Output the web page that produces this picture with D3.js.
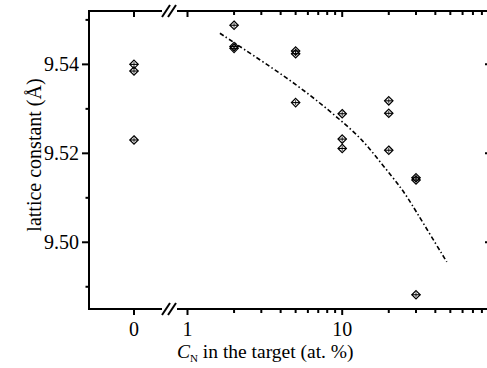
<!DOCTYPE html>
<html>
<head>
<meta charset="utf-8">
<script src="https://cdn.jsdelivr.net/npm/d3@7"></script>
<style>
  html, body { margin: 0; padding: 0; background: #fff; }
  svg { display: block; }
</style>
</head>
<body>
<svg id="chart" width="487" height="368"></svg>
<script>
// ---------- data ----------
const zeroCategory = [0, 0, 0];
const zeroValues = [9.5400, 9.5385, 9.5230];
const logX = [2, 2, 2, 5, 5, 5, 10, 10, 10, 20, 20, 20, 30, 30, 30];
const logY = [9.5488, 9.5440, 9.5436, 9.5430, 9.5424, 9.5314, 9.5289, 9.5232, 9.5211, 9.5318, 9.5290, 9.5207, 9.5145, 9.5140, 9.4882];
const fitX = [1.62, 2.54, 5.34, 9.68, 13.7, 18.0, 24.3, 28.8, 47.4];
const fitY = [9.5470, 9.5425, 9.5350, 9.5276, 9.5229, 9.5176, 9.5121, 9.5080, 9.4956];
const yMajorTicks = [9.50, 9.52, 9.54];
const yMinorTicks = [9.49, 9.51, 9.53, 9.55];
const xLogMajorTicks = [1, 10];
const xLogMinorTicks = [2, 3, 4, 5, 6, 7, 8, 9, 20, 30, 40, 50, 60, 70, 80, 90];
const xLeftTicks = [0];
const yTitle = "lattice constant (Å)";

(function () {
const FONT = '"Liberation Serif"';
const svg = d3.select("#chart");
const pL = 89, pR = 490, pT = 11, pB = 309;
const breakL = 162, breakR = 177;

const y = d3.scaleLinear().domain([9.485, 9.552]).range([pB, pT]);
const xL = d3.scaleLinear().domain([-1, 0]).range([pL, 134]);
const xR = d3.scaleLog().domain([1, 10]).range([187.5, 342.2]);

const fmtY = d3.format(".2f");
const AX = 2;

function txt(sel) { return sel.style("font-family", FONT).attr("fill", "#000"); }

function hline(yy) {
  svg.append("line").attr("x1", pL - 1).attr("x2", breakL).attr("y1", yy).attr("y2", yy)
    .attr("stroke", "#000").attr("stroke-width", AX);
  svg.append("line").attr("x1", breakR).attr("x2", pR + 2).attr("y1", yy).attr("y2", yy)
    .attr("stroke", "#000").attr("stroke-width", AX);
  [0, 6].forEach(o => {
    svg.append("line").attr("x1", breakL + o).attr("y1", yy + 6)
      .attr("x2", breakL + o + 8).attr("y2", yy - 6)
      .attr("stroke", "#000").attr("stroke-width", 2);
  });
}
hline(pT);
hline(pB);
svg.append("line").attr("x1", pL).attr("x2", pL).attr("y1", pT).attr("y2", pB)
  .attr("stroke", "#000").attr("stroke-width", AX);
svg.append("line").attr("x1", pR).attr("x2", pR).attr("y1", pT).attr("y2", pB)
  .attr("stroke", "#000").attr("stroke-width", AX);

yMajorTicks.forEach(v => {
  svg.append("line").attr("x1", pL - 7).attr("x2", pL).attr("y1", y(v)).attr("y2", y(v))
    .attr("stroke", "#000").attr("stroke-width", 2);
  svg.append("line").attr("x1", pR - 5).attr("x2", pR).attr("y1", y(v)).attr("y2", y(v))
    .attr("stroke", "#000").attr("stroke-width", 2);
  txt(svg.append("text")).attr("x", pL - 10).attr("y", y(v)).attr("dy", "0.35em")
    .attr("text-anchor", "end").attr("font-size", 20).text(fmtY(v));
});
yMinorTicks.forEach(v => {
  svg.append("line").attr("x1", pL - 3.5).attr("x2", pL).attr("y1", y(v)).attr("y2", y(v))
    .attr("stroke", "#000").attr("stroke-width", 2);
  svg.append("line").attr("x1", pR - 3).attr("x2", pR).attr("y1", y(v)).attr("y2", y(v))
    .attr("stroke", "#000").attr("stroke-width", 2);
});

function xtick(px, major) {
  const len = major ? 6 : 4;
  svg.append("line").attr("x1", px).attr("x2", px).attr("y1", pB).attr("y2", pB + len)
    .attr("stroke", "#000").attr("stroke-width", 2);
  svg.append("line").attr("x1", px).attr("x2", px).attr("y1", pT).attr("y2", pT + len)
    .attr("stroke", "#000").attr("stroke-width", 2);
}
const tickBase = 335.5;
xLeftTicks.forEach(v => {
  xtick(xL(v), true);
  txt(svg.append("text")).attr("x", xL(v)).attr("y", tickBase).attr("text-anchor", "middle")
    .attr("font-size", 20).text(String(v));
});
xLogMajorTicks.forEach(v => {
  xtick(xR(v), true);
  txt(svg.append("text")).attr("x", xR(v)).attr("y", tickBase).attr("text-anchor", "middle")
    .attr("font-size", 20).text(String(v));
});
xLogMinorTicks.forEach(v => { if (xR(v) < pR - 1) xtick(xR(v), false); });

const fitPts = fitX.map((d, i) => [xR(d), y(fitY[i])]);
svg.append("path").datum(fitPts)
  .attr("d", d3.line().curve(d3.curveBasis))
  .attr("fill", "none").attr("stroke", "#000").attr("stroke-width", 1.6)
  .attr("stroke-dasharray", "4.5,2.5,1.5,2.5");

function marker(px, py) {
  const g = svg.append("g").attr("transform", `translate(${px},${py})`);
  g.append("path").attr("d", "M0,-4.2L4.2,0L0,4.2L-4.2,0Z")
    .attr("fill", "none").attr("stroke", "#000").attr("stroke-width", 1.2);
  g.append("line").attr("x1", -4.2).attr("x2", 4.2).attr("y1", 0).attr("y2", 0)
    .attr("stroke", "#000").attr("stroke-width", 1.1);
  g.append("line").attr("x1", 0).attr("x2", 0).attr("y1", -2.5).attr("y2", 2.5)
    .attr("stroke", "#000").attr("stroke-width", 0.8);
}
zeroValues.forEach((v, i) => marker(xL(zeroCategory[i]), y(v)));
logY.forEach((v, i) => marker(xR(logX[i]), y(v)));

const xt = txt(svg.append("text")).attr("x", 177).attr("y", 358).attr("font-size", 19.5);
xt.append("tspan").attr("font-style", "italic").text("C");
xt.append("tspan").attr("font-size", 11).attr("dy", 4).text("N");
xt.append("tspan").attr("dy", -4).text(" in the target (at. %)");

txt(svg.append("text")).attr("transform", "translate(41,155) rotate(-90)")
  .attr("text-anchor", "middle").attr("font-size", 20).text(yTitle);
})();
</script>
</body>
</html>
